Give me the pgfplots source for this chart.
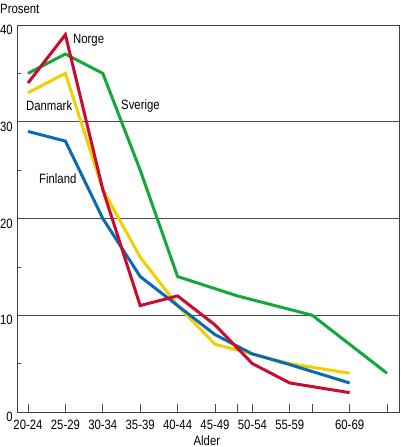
\documentclass[border=0pt]{standalone}
\usepackage{pgfplots}
\pgfplotsset{compat=1.18}
\usepackage{fontspec}
\setmainfont{Liberation Sans}[FakeStretch=0.84]

\definecolor{cnorge}{HTML}{CC0A30}
\definecolor{cdanmark}{HTML}{F0D000}
\definecolor{csverige}{HTML}{14A83C}
\definecolor{cfinland}{HTML}{0A6BB5}

\begin{document}
\fontsize{13.5}{15}\selectfont
\begin{tikzpicture}
\useasboundingbox (-17pt,-35pt) rectangle (383pt,412pt);
\begin{axis}[
    scale only axis,
    width=382pt, height=387pt,
    xmin=20.53, xmax=71.6,
    ymin=0, ymax=40,
    /pgf/number format/assume math mode=true,
    axis line style={black!75, line width=0.8pt},
    tick pos=left,
    tick align=inside,
    xtick={22,27,32,37,42,47,52,57,65},
    xticklabels={20-24,25-29,30-34,35-39,40-44,45-49,50-54,55-59,60-69},
    extra x ticks={50,60,70},
    extra x tick labels={},
    extra x tick style={grid=none},
    major tick length=8pt,
    ytick={0,10,20,30,40},
    minor ytick={5,15,25,35},
    minor tick length=4pt,
    tick style={black!70, line width=0.7pt},
    ymajorgrids,
    grid style={black!70, line width=0.8pt},
    xticklabel style={anchor=base, inner sep=0pt, yshift=-17pt},
    yticklabel style={anchor=north east, inner sep=0pt, xshift=-4pt},
    xlabel={Alder},
    xlabel style={at={(rel axis cs:0.497,0)}, anchor=base, inner sep=0pt, yshift=-33pt},
    clip=false,
  ]
  \addplot[cdanmark, line width=3pt] coordinates {
    (22,33) (27,35) (32,23) (37,16) (42,11) (47,7) (52,6) (57,5) (65,4)
  };
  \addplot[cfinland, line width=3pt] coordinates {
    (22,29) (27,28) (32,20) (37,14) (42,11) (47,8) (52,6) (57,4.9) (65,3)
  };
  \addplot[csverige, line width=3pt] coordinates {
    (22,35) (27,37) (32,35) (37,25) (42,14) (50,12) (60,10) (70,4)
  };
  \addplot[cnorge, line width=3pt] coordinates {
    (22,34) (27,39) (32,23) (37,11) (42,12) (47,9) (52,5) (57,3) (65,2)
  };
  \node[anchor=base west, inner sep=0pt] at (axis cs:28.02,38.04) {Norge};
  \node[anchor=base west, inner sep=0pt] at (axis cs:21.73,31.2) {Danmark};
  \node[anchor=base west, inner sep=0pt] at (axis cs:34.44,31.3) {Sverige};
  \node[anchor=base west, inner sep=0pt] at (axis cs:23.47,23.57) {Finland};
  \node[anchor=base west, inner sep=0pt] at (rel axis cs:0,1) [xshift=-17pt, yshift=11pt] {Prosent};
\end{axis}
\end{tikzpicture}
\end{document}
